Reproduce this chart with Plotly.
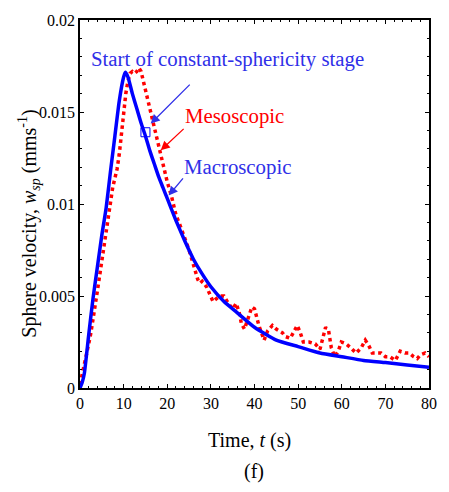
import plotly.graph_objects as go

# Macroscopic (blue solid)
t_macro = [0, 0.5, 1, 2, 3, 4, 5, 6, 7, 8, 9, 10, 10.4, 11, 12, 13, 14, 15, 16, 17, 18, 19, 20, 22, 24,
           26, 28, 30, 33, 36, 40, 45, 50, 55, 60, 65, 70, 75, 80]
w_macro = [0, 0.0003, 0.0008, 0.0029, 0.0049, 0.0066, 0.0083, 0.0098, 0.0118, 0.0137, 0.0156, 0.0169,
           0.01716, 0.0169, 0.0160, 0.0152, 0.0144, 0.0137, 0.0129, 0.0122, 0.0115, 0.0109, 0.0103,
           0.0091, 0.0080, 0.0070, 0.0062, 0.0055, 0.0047, 0.0041, 0.0033, 0.0026, 0.00225, 0.0019,
           0.0017, 0.0015, 0.00138, 0.00125, 0.00113]

# Mesoscopic (red dotted)
t_meso = [0, 0.5, 1, 1.5, 2, 2.5, 3, 3.5, 4, 4.5, 5, 5.5, 6, 6.5, 7, 7.5, 8, 8.5, 9, 9.5, 10, 10.5, 11,
          11.5, 12, 12.5, 13, 13.5, 14, 14.5, 15, 15.5, 16, 16.5, 17, 17.5, 18, 19, 20, 21, 22, 23, 24,
          25, 26, 27, 27.5, 28, 29, 30, 30.5, 31, 32, 33, 34, 35, 35.8, 36.5, 37, 37.7, 38.5, 39.4, 40,
          41, 42.2, 43, 44.1, 45, 46.4, 47, 48.2, 49, 49.8, 50.5, 51.2, 52.5, 53.9, 55, 55.7, 56.3, 57,
          57.6, 58.4, 59.2, 59.9, 61, 62, 63.3, 64.5, 65.4, 66.2, 67, 67.8, 69, 70, 71, 72.3, 73.4,
          74.5, 75.5, 76.5, 77.3, 78, 79.1, 80]
w_meso = [0.0002, 0.0007, 0.0012, 0.0018, 0.0024, 0.0030, 0.0037, 0.0045, 0.0053, 0.0061, 0.0069,
          0.0078, 0.0086, 0.0093, 0.0102, 0.0109, 0.0114, 0.0119, 0.0127, 0.0139, 0.0150, 0.0160,
          0.0167, 0.0171, 0.0172, 0.0171, 0.0172, 0.0174, 0.0172, 0.0167, 0.0162, 0.0158, 0.0152,
          0.0146, 0.0141, 0.0136, 0.0131, 0.0121, 0.0112, 0.0104, 0.0094, 0.0088, 0.0082, 0.0075,
          0.0067, 0.0059, 0.0057, 0.0058, 0.0055, 0.0049, 0.0047, 0.0048, 0.0050, 0.0050, 0.0046,
          0.0043, 0.0046, 0.0041, 0.0035, 0.0032, 0.0038, 0.0044, 0.0043, 0.0034, 0.0026, 0.0031,
          0.0034, 0.0032, 0.0030, 0.0028, 0.0027, 0.0031, 0.0034, 0.0030, 0.0025, 0.0025, 0.0024,
          0.0021, 0.0028, 0.0033, 0.0031, 0.0022, 0.0017, 0.0020, 0.0025, 0.0024, 0.0022, 0.0019,
          0.0022, 0.0026, 0.0023, 0.0019, 0.0019, 0.0019, 0.0017, 0.0017, 0.0015, 0.0020, 0.0019,
          0.0019, 0.0017, 0.0016, 0.0018, 0.0019, 0.0017]

# Start of constant-sphericity stage marker
t_mark = [15]
w_mark = [0.0139]

x_ticks = [0, 10, 20, 30, 40, 50, 60, 70, 80]
y_ticks = [0, 0.005, 0.01, 0.015, 0.02]
y_tick_text = ["0", "0.005", "0.01", "0.015", "0.02"]

FONT = "Liberation Serif"
BLUE = "#0000FF"
TXT_BLUE = "#3030E8"
RED = "#FF0000"

fig = go.Figure()
fig.add_trace(go.Scatter(x=t_meso, y=w_meso, mode="lines",
                         line=dict(color=RED, width=3.5, dash="dot"), showlegend=False))
fig.add_trace(go.Scatter(x=t_macro, y=w_macro, mode="lines",
                         line=dict(color=BLUE, width=3.5, shape="spline", smoothing=0.5),
                         showlegend=False))
fig.add_trace(go.Scatter(x=t_mark, y=w_mark, mode="markers",
                         marker=dict(symbol="square-open", size=9, color=BLUE, line=dict(width=1)),
                         showlegend=False))

axis_common = dict(showline=True, linecolor="black", linewidth=1.5, mirror="ticks",
                   ticks="inside", ticklen=4, tickwidth=1, tickcolor="black",
                   showgrid=False, zeroline=False,
                   tickfont=dict(family=FONT, size=16, color="black"))

fig.update_xaxes(range=[0, 80], tickvals=x_ticks,
                 minor=dict(dtick=2, ticks="inside", ticklen=2, tickcolor="black"),
                 **axis_common)
fig.update_yaxes(range=[0, 0.02], tickvals=y_ticks, ticktext=y_tick_text,
                 minor=dict(dtick=0.001, ticks="inside", ticklen=2, tickcolor="black"),
                 **axis_common)

annos = [
    dict(text="Time, <i>t</i> (s)", x=0.486, y=-0.143, xref="paper", yref="paper",
         xanchor="center", yanchor="middle",
         showarrow=False, font=dict(family=FONT, size=20, color="black")),
    dict(text="(f)", x=0.4986, y=-0.227, xref="paper", yref="paper",
         xanchor="center", yanchor="middle",
         showarrow=False, font=dict(family=FONT, size=20, color="black")),
    dict(text="Sphere velocity, <i>w<sub>sp</sub></i> (mms<sup>-1</sup>)", x=-0.146, y=0.4465,
         xref="paper", yref="paper", textangle=-90, showarrow=False,
         xanchor="center", yanchor="middle",
         font=dict(family=FONT, size=20, color="black")),
    dict(text="Start of constant-sphericity stage", x=33.8, y=0.0179, xref="x", yref="y",
         xanchor="center", yanchor="middle",
         showarrow=False, font=dict(family=FONT, size=20.8, color=TXT_BLUE)),
    dict(text="Mesoscopic", x=35.5, y=0.0148, xref="x", yref="y",
         xanchor="center", yanchor="middle",
         showarrow=False, font=dict(family=FONT, size=20.8, color=RED)),
    dict(text="Macroscopic", x=36, y=0.0120, xref="x", yref="y",
         xanchor="center", yanchor="middle",
         showarrow=False, font=dict(family=FONT, size=20.8, color=TXT_BLUE)),
    # arrows
    dict(x=16.2, y=0.01437, ax=25.5, ay=0.01657, xref="x", yref="y", axref="x", ayref="y",
         text="", showarrow=True, arrowhead=2, arrowsize=1.4, arrowwidth=1.3, arrowcolor=TXT_BLUE),
    dict(x=18.5, y=0.01292, ax=24.1, ay=0.01416, xref="x", yref="y", axref="x", ayref="y",
         text="", showarrow=True, arrowhead=2, arrowsize=1.4, arrowwidth=1.3, arrowcolor=RED),
    dict(x=20.3, y=0.01046, ax=23.9, ay=0.01147, xref="x", yref="y", axref="x", ayref="y",
         text="", showarrow=True, arrowhead=2, arrowsize=1.4, arrowwidth=1.3, arrowcolor=TXT_BLUE),
]
fig.update_layout(width=449, height=492, margin=dict(l=80, r=14, t=14, b=104),
                  plot_bgcolor="white", paper_bgcolor="white", annotations=annos,
                  font=dict(family=FONT))

fig.write_html("out.html")
